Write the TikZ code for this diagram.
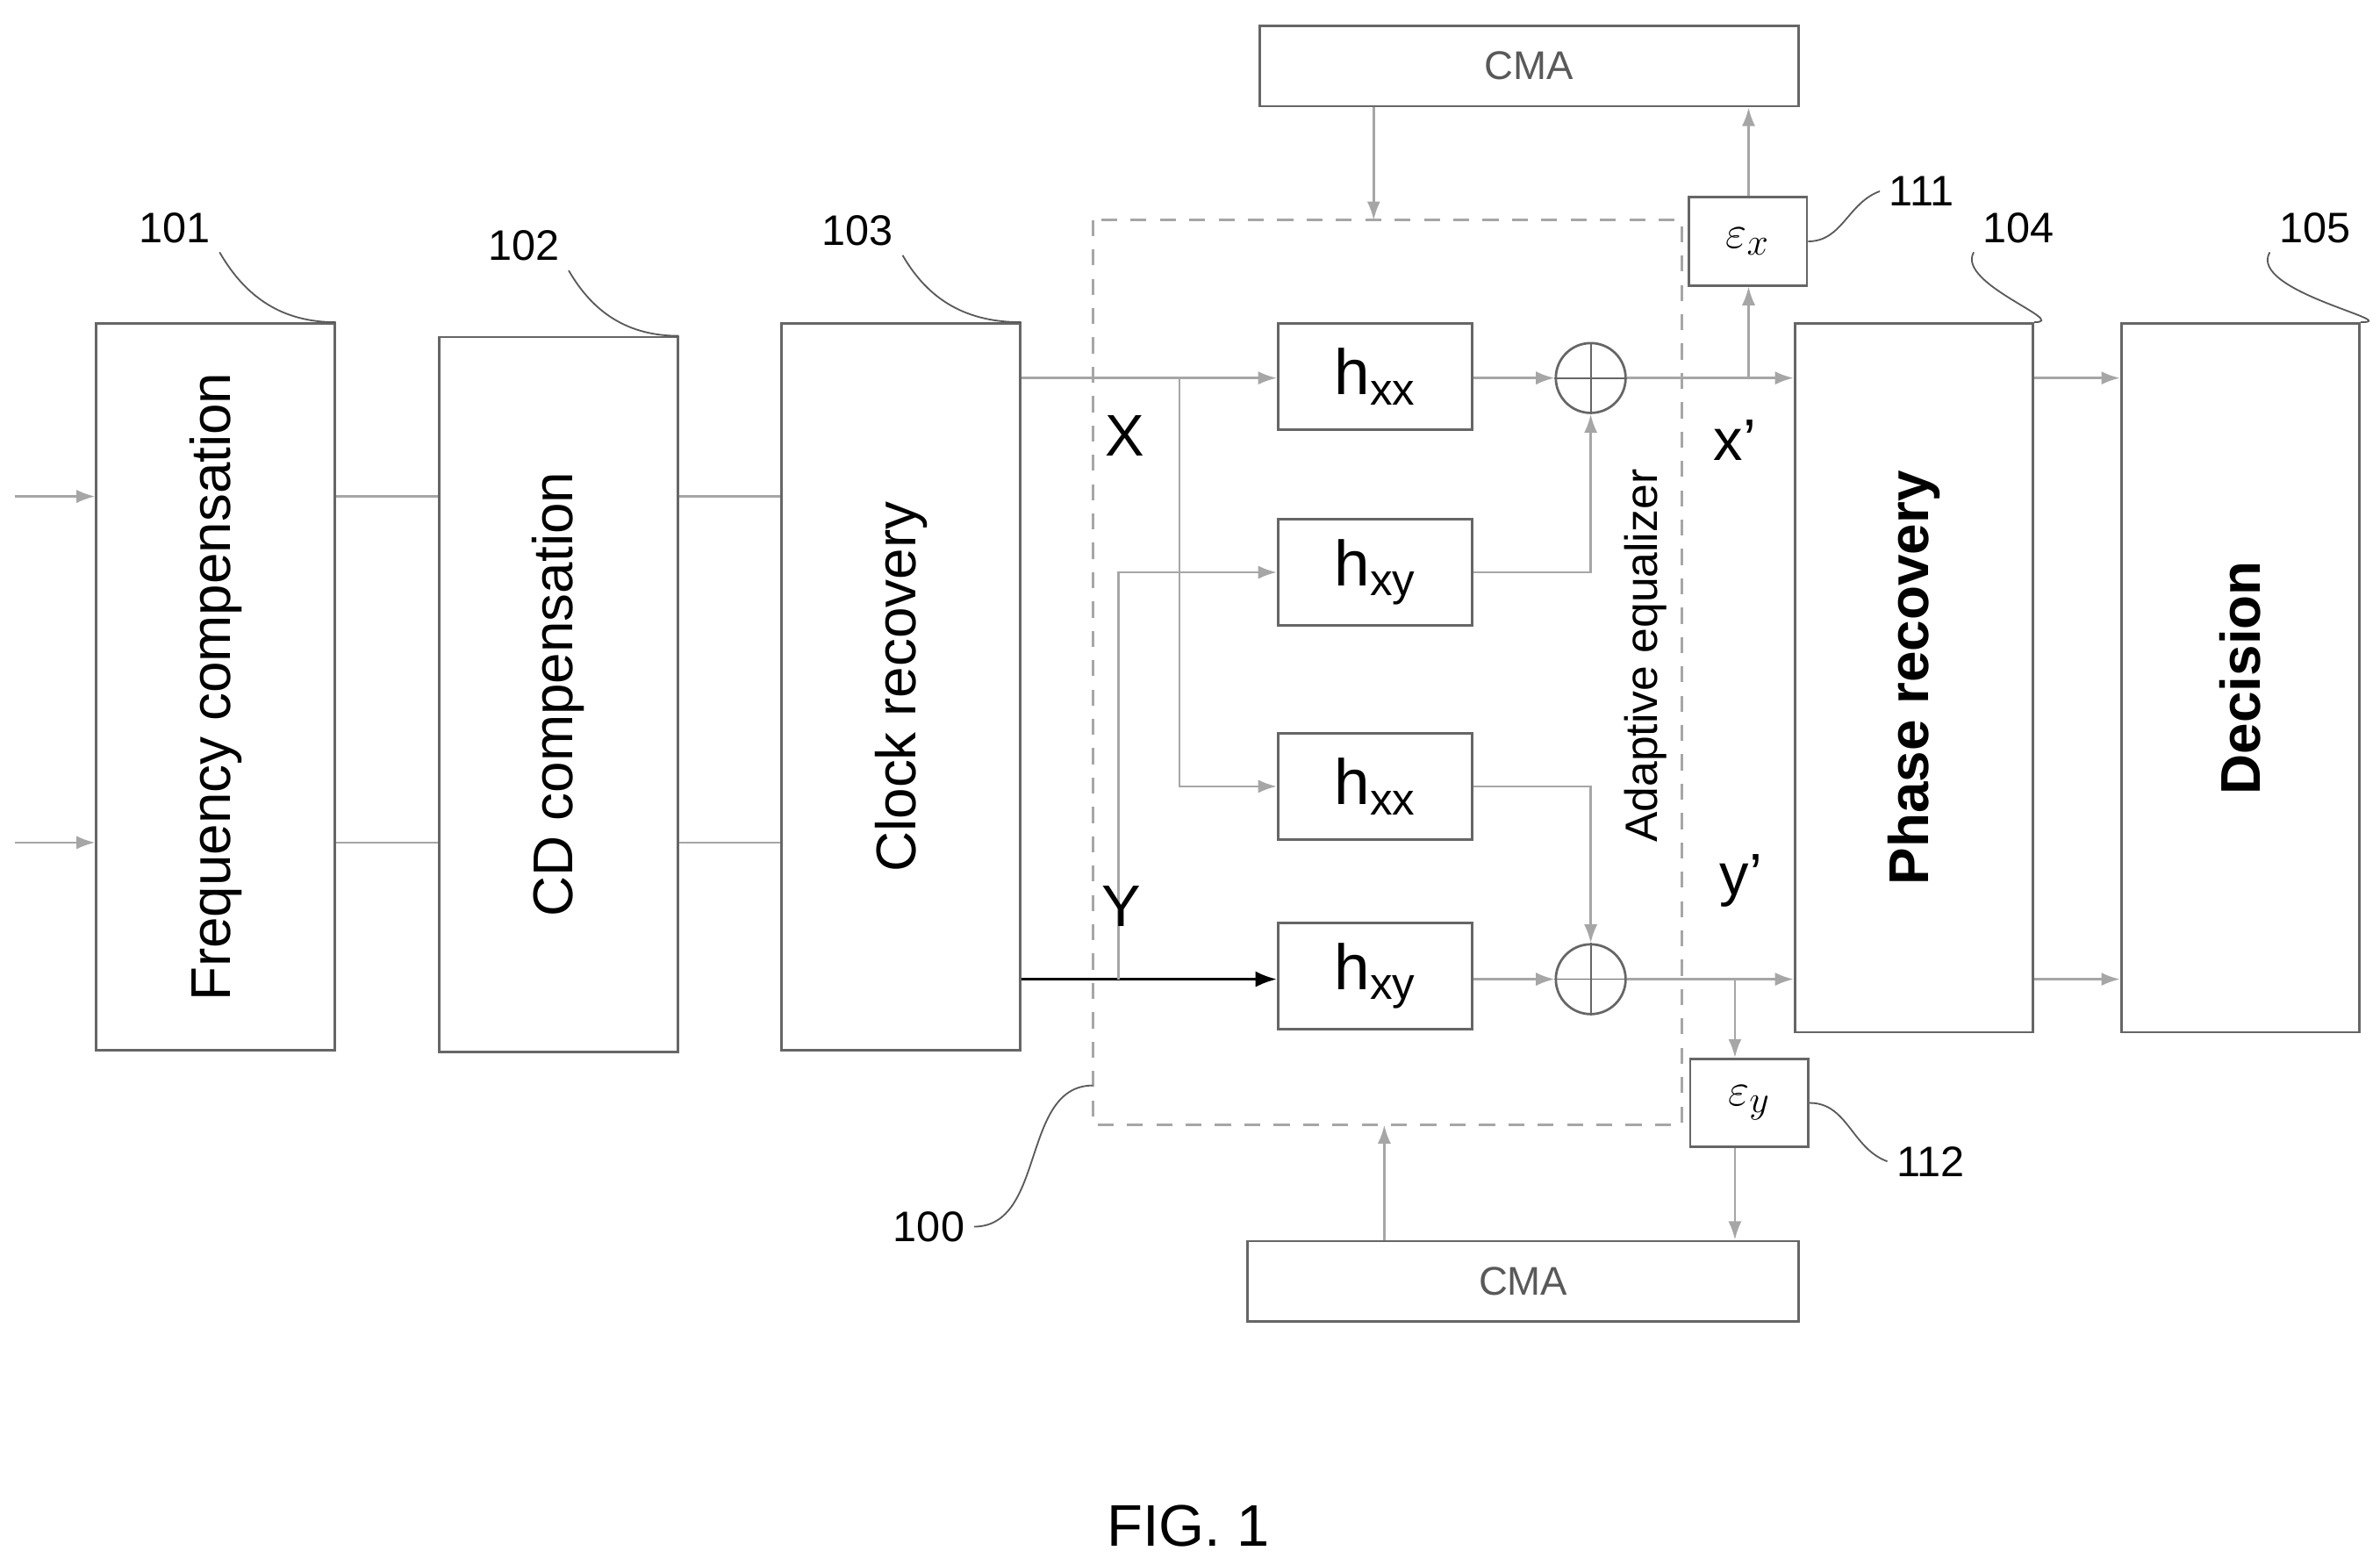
\documentclass[tikz,border=0pt]{standalone}
\usepackage{fontspec}
\setmainfont{Liberation Sans}
\usetikzlibrary{arrows.meta,positioning}
\begin{document}
\begin{tikzpicture}[x=0.02cm,y=-0.02cm,
    blk/.style={draw=gray!80!black,line width=0.9pt,minimum width=3.14cm,inner sep=0pt},
    hbox/.style={draw=gray!80!black,line width=0.9pt,minimum width=2.56cm,minimum height=1.4cm,font=\fontsize{24}{24}\selectfont},
    ebox/.style={draw=gray!80!black,line width=0.9pt,minimum width=1.56cm,minimum height=1.16cm,font=\fontsize{19}{19}\selectfont},
    cma/.style={draw=gray!80!black,line width=0.9pt,minimum height=1.06cm,font=\fontsize{15}{15}\selectfont,text=gray!70!black},
    sum/.style={draw=gray!80!black,line width=0.9pt,circle,minimum size=0.92cm,inner sep=0pt},
    sig/.style={draw=gray!70,line width=0.9pt},
    arr/.style={sig,-{Latex[length=7pt,width=5pt]}},
    lbl/.style={font=\fontsize{22}{22}\selectfont},
    num/.style={font=\fontsize{16}{16}\selectfont},
    lead/.style={draw=gray!70!black,line width=0.6pt}]
  \useasboundingbox (0,0) rectangle (1568,1026);
  \tikzset{big/.style={rotate=90,font=\fontsize{21}{21}\selectfont}}
  % main chain
  \node[blk,minimum height=9.58cm] (fc) at (142,452.5) {};
  \node[big] at (fc) {Frequency compensation};
  \node[blk,minimum height=9.42cm] (cd) at (368,457.5) {};
  \node[big] at (cd) {CD compensation};
  \node[blk,minimum height=9.58cm] (cr) at (593.5,452.5) {};
  \node[big] at (cr) {Clock recovery};
  \node[blk,minimum height=9.34cm] (pr) at (1261,446.5) {};
  \node[big,font=\fontsize{21}{21}\selectfont\bfseries] at (pr) {Phase recovery};
  \node[blk,minimum height=9.34cm] (dc) at (1476,446.5) {};
  \node[big,font=\fontsize{21}{21}\selectfont\bfseries] at (dc) {Decision};
  % equalizer
  \draw[gray!70,line width=0.9pt,dashed,dash pattern=on 6pt off 5pt] (720,145) rectangle (1108,741);
  \node[rotate=90,font=\fontsize{17}{17}\selectfont] (ae) at (1084,432) {Adaptive equalizer};
  \node[hbox] (h1) at (906,248) {h\textsubscript{xx}};
  \node[hbox] (h2) at (906,377) {h\textsubscript{xy}};
  \node[hbox] (h3) at (906,518) {h\textsubscript{xx}};
  \node[hbox] (h4) at (906,643) {h\textsubscript{xy}};
  \node[sum] (s1) at (1048,249) {};
  \node[sum] (s2) at (1048,645) {};
  \draw[gray!80!black,line width=0.6pt] (s1.north) -- (s1.south) (s1.west) -- (s1.east);
  \draw[gray!80!black,line width=0.6pt] (s2.north) -- (s2.south) (s2.west) -- (s2.east);
  \coordinate (xb) at (777,249);
  \coordinate (yb) at (737,645);
  \draw[arr] (cr.east |- xb) -- (h1.west |- xb);
  \draw[draw=black,line width=1.1pt,-{Latex[length=8pt,width=6pt]}] (cr.east |- yb) -- (h4.west |- yb);
  \draw[arr] (xb) |- (h3.west);
  \draw[arr] (yb) |- (h2.west);
  \draw[arr] (h1.east |- s1) -- (s1.west);
  \draw[arr] (h4.east |- s2) -- (s2.west);
  \draw[arr] (h2.east) -| (s1.south);
  \draw[arr] (h3.east) -| (s2.north);
  \draw[arr] (s1.east) -- (pr.west |- s1);
  \draw[arr] (s2.east) -- (pr.west |- s2);
  \node[lbl] at (741,287) {X};
  \node[lbl] at (739,597) {Y};
  \node[lbl] at (1143,290) {x’};
  \node[lbl] at (1147,580) {y’};
  % error and CMA
  \node[ebox] (ex) at (1151.5,159) {$\varepsilon_x$};
  \node[ebox] (ey) at (1152.5,726.5) {$\varepsilon_y$};
  \node[cma,minimum width=7.1cm] (cma1) at (1007.5,43.5) {CMA};
  \node[cma,minimum width=7.26cm] (cma2) at (1003.5,844) {CMA};
  \coordinate (tx) at (1152,249);
  \coordinate (ty) at (1143,645);
  \draw[arr] (tx) -- (ex.south -| tx);
  \draw[arr] (ex.north -| tx) -- (cma1.south -| tx);
  \draw[arr] (ty) -- (ey.north -| ty);
  \draw[arr] (ey.south -| ty) -- (cma2.north -| ty);
  \draw[arr] (cma1.south -| 905,0) -- (905,145);
  \draw[arr] (cma2.north -| 912,0) -- (912,741);
  % chain links
  \draw[arr] (10,327) -- (fc.west |- 0,327);
  \draw[arr] (10,555) -- (fc.west |- 0,555);
  \foreach \yy in {327,555} {
    \draw[sig] (fc.east |- 0,\yy) -- (cd.west |- 0,\yy);
    \draw[sig] (cd.east |- 0,\yy) -- (cr.west |- 0,\yy);
  }
  \draw[arr] (pr.east |- s1) -- (dc.west |- s1);
  \draw[arr] (pr.east |- s2) -- (dc.west |- s2);
  % reference numerals
  \node[num] (n101) at (115,150) {101};
  \node[num] (n102) at (345,162) {102};
  \node[num] (n103) at (565,152) {103};
  \node[num] (n104) at (1330,150) {104};
  \node[num] (n105) at (1525,150) {105};
  \node[num] (n111) at (1266,126) {111};
  \node[num] (n112) at (1272,765) {112};
  \node[num] (n100) at (612,808) {100};
  \draw[lead] (n101.south east) to[out=-60,in=180] (fc.north east);
  \draw[lead] (n102.south east) to[out=-60,in=180] (cd.north east);
  \draw[lead] (n103.south east) to[out=-60,in=180] (cr.north east);
  \draw[lead] (n104.south west) to[out=-120,in=0] (pr.north east);
  \draw[lead] (n105.south west) to[out=-120,in=0] (dc.north east);
  \draw[lead] (n111.west) to[out=200,in=0] (ex.east);
  \draw[lead] (n112.west) to[out=160,in=0] (ey.east);
  \draw[lead] (n100.east) to[out=0,in=180] (720,715);
  \node[font=\fontsize{22}{22}\selectfont] (fig) at (783,1005) {FIG. 1};
\end{tikzpicture}
\end{document}
